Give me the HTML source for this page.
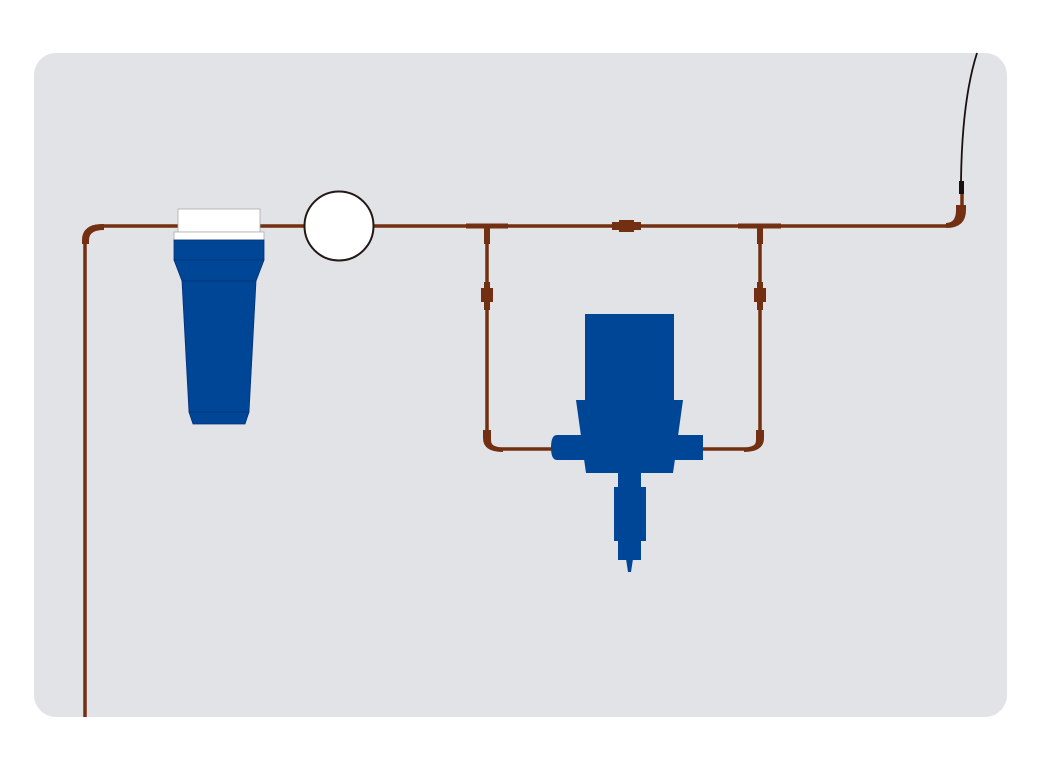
<!DOCTYPE html>
<html><head><meta charset="utf-8"><style>html,body{margin:0;padding:0;background:#fff}</style></head>
<body>
<svg width="1042" height="771" viewBox="0 0 1042 771" xmlns="http://www.w3.org/2000/svg">
<rect x="34" y="53" width="973" height="664" rx="22" fill="#e2e3e7"/>
<g fill="none" stroke="#722f12" stroke-width="3.5">
<path d="M85 717 V240 Q85 226 100 226 H945 Q962 226 962 210 V194"/>
<path d="M487 226 V436 Q487 449 502 449 H552"/>
<path d="M760 226 V436 Q760 449 745 449 H702"/>
</g>
<g fill="#722f12">
<path d="M82 244 h7 v-4 q0 -10 15 -10 v-6 q-22 0 -22 16z"/>
<rect x="466" y="223.5" width="42" height="5"/>
<rect x="738" y="223.5" width="43" height="5"/>
<rect x="484" y="226" width="6" height="18"/>
<rect x="757" y="226" width="6" height="18"/>
<rect x="612" y="222" width="29" height="8"/>
<rect x="619" y="220" width="15" height="12"/>
<rect x="481" y="288" width="12" height="14"/>
<rect x="484" y="282" width="6" height="28"/>
<rect x="754" y="288" width="12" height="14"/>
<rect x="757" y="282" width="6" height="28"/>
<path d="M483 430 h8 v10 q0 8 12 8 v4 q-20 0 -20 -14z"/>
<path d="M764 430 h-8 v10 q0 8 -12 8 v4 q20 0 20 -14z"/>
<path d="M956 205 h10 v5 q0 18 -20 18 v-5 q10 0 10 -13z"/>
</g>
<path d="M961 181 Q962 100 977 53" fill="none" stroke="#1a1010" stroke-width="1.8"/>
<rect x="959" y="181" width="5" height="13" fill="#1a1010"/>
<circle cx="339" cy="226" r="34.5" fill="#fff" stroke="#231815" stroke-width="2"/>
<rect x="178" y="209" width="82" height="23" fill="#fff" stroke="#aaa" stroke-width="0.8"/>
<rect x="174" y="232" width="90" height="8" fill="#fff" stroke="#aaa" stroke-width="0.8"/>
<g fill="#004696" stroke="#00307a" stroke-width="0.8">
<rect x="174" y="240" width="90" height="20"/>
<path d="M174 260 H264 L256 281 H182Z"/>
<path d="M182 281 H256 L249 412 H189Z"/>
<path d="M189 412 H249 L245 424 H193Z"/>
</g>
<g fill="#004696">
<rect x="585" y="314" width="89" height="88"/>
<path d="M576 400 H683 L678 436 H581Z"/>
<path d="M557 435 H703 V460 H557 Q551 460 551 447.5 Q551 435 557 435Z"/>
<path d="M584 459 H675 L673 473 H586Z"/>
<rect x="618" y="471" width="23" height="18"/>
<rect x="614" y="487" width="32" height="54"/>
<rect x="618" y="540" width="23" height="20"/>
<path d="M626 559 H633 L631 572 H628Z"/>
</g>
</svg>
</body></html>
